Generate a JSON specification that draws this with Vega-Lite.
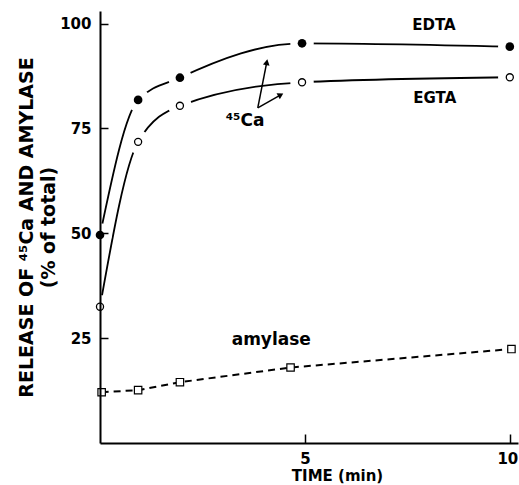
{
  "$schema": "https://vega.github.io/schema/vega-lite/v6.json",
  "width": 418,
  "height": 432,
  "autosize": {"type": "none"},
  "padding": {"left": 100, "top": 11, "right": 1, "bottom": 42},
  "background": "white",
  "config": {
    "view": {"stroke": null},
    "axis": {
      "domainColor": "black",
      "domainWidth": 2,
      "tickColor": "black",
      "tickWidth": 1.5,
      "labelColor": "black",
      "titleColor": "black",
      "labelFont": "DejaVu Sans",
      "labelFontWeight": "bold",
      "labelFontSize": 15,
      "titleFont": "DejaVu Sans",
      "titleFontWeight": "bold",
      "grid": false,
      "labelFlush": false,
      "labelOverlap": false
    }
  },
  "datasets": {
    "series": [
      {"series": "EDTA", "t": 0, "v": 49.6},
      {"series": "EDTA", "t": 0.93, "v": 81.8},
      {"series": "EDTA", "t": 1.95, "v": 87.1},
      {"series": "EDTA", "t": 4.93, "v": 95.3},
      {"series": "EDTA", "t": 10, "v": 94.5},
      {"series": "EGTA", "t": 0, "v": 32.5},
      {"series": "EGTA", "t": 0.93, "v": 71.8},
      {"series": "EGTA", "t": 1.95, "v": 80.4},
      {"series": "EGTA", "t": 4.93, "v": 86.0},
      {"series": "EGTA", "t": 10, "v": 87.2},
      {"series": "amylase", "t": 0.04, "v": 12.1},
      {"series": "amylase", "t": 0.93, "v": 12.6},
      {"series": "amylase", "t": 1.95, "v": 14.5},
      {"series": "amylase", "t": 4.65, "v": 18.0},
      {"series": "amylase", "t": 10.04, "v": 22.4}
    ],
    "arrows": [
      {"id": "a1", "t": 3.85, "v": 79.9, "t2": 4.07, "v2": 90.8},
      {"id": "a2", "t": 3.85, "v": 79.9, "t2": 4.41, "v2": 83.0}
    ],
    "labels": [
      {"label": "EDTA", "t": 8.15, "v": 99.7, "kind": "small"},
      {"label": "EGTA", "t": 8.17, "v": 82.3, "kind": "small"},
      {"label": "⁴⁵Ca", "t": 3.54, "v": 75.6, "kind": "big"},
      {"label": "amylase", "t": 4.18, "v": 23.4, "kind": "big"}
    ]
  },
  "encoding": {
    "x": {
      "field": "t",
      "type": "quantitative",
      "scale": {"domain": [0, 10.2], "nice": false, "zero": false},
      "axis": {
        "zindex": 1,
        "values": [5, 10],
        "format": "d",
        "title": "TIME (min)",
        "titleFontSize": 15,
        "titleX": 237,
        "titleY": 32,
        "titleAlign": "center",
        "titleBaseline": "middle",
        "tickSize": -9,
        "labelPadding": 17,
        "labelFlush": 10,
        "labelFlushOffset": 8
      }
    },
    "y": {
      "field": "v",
      "type": "quantitative",
      "scale": {"domain": [0, 103], "nice": false},
      "axis": {
        "zindex": 1,
        "values": [25, 50, 75, 100],
        "format": "d",
        "title": ["RELEASE OF ⁴⁵Ca AND AMYLASE", "(% of total)"],
        "titleFontSize": 19,
        "titleLineHeight": 22,
        "titleAngle": -90,
        "titleX": -74,
        "titleY": 216,
        "titleAlign": "center",
        "titleBaseline": "middle",
        "tickSize": -8,
        "labelPadding": 17
      }
    }
  },
  "layer": [
    {
      "data": {"name": "series"},
      "transform": [{"filter": "datum.series !== 'amylase'"}],
      "mark": {"type": "line", "interpolate": "monotone", "color": "black", "strokeWidth": 1.8},
      "encoding": {"detail": {"field": "series"}}
    },
    {
      "data": {"name": "series"},
      "transform": [{"filter": "datum.series === 'amylase'"}],
      "mark": {"type": "line", "color": "black", "strokeWidth": 2, "strokeDash": [7, 5]},
      "encoding": {}
    },
    {
      "data": {"name": "series"},
      "transform": [{"filter": "datum.series !== 'amylase'"}],
      "mark": {"type": "point", "shape": "circle", "filled": false, "fill": null, "stroke": "white", "strokeWidth": 14, "size": 90, "opacity": 1},
      "encoding": {}
    },
    {
      "data": {"name": "series"},
      "transform": [{"filter": "datum.series === 'EDTA'"}],
      "mark": {"type": "point", "shape": "circle", "filled": true, "color": "black", "size": 75, "opacity": 1},
      "encoding": {}
    },
    {
      "data": {"name": "series"},
      "transform": [{"filter": "datum.series === 'EGTA'"}],
      "mark": {"type": "point", "shape": "circle", "filled": true, "fill": "white", "stroke": "black", "strokeWidth": 1.3, "size": 50, "opacity": 1},
      "encoding": {}
    },
    {
      "data": {"name": "series"},
      "transform": [{"filter": "datum.series === 'amylase'"}],
      "mark": {"type": "point", "shape": "square", "filled": true, "fill": "white", "stroke": "black", "strokeWidth": 1.2, "size": 55, "opacity": 1},
      "encoding": {}
    },
    {
      "data": {"name": "arrows"},
      "mark": {"type": "rule", "color": "black", "strokeWidth": 1.5},
      "encoding": {"x2": {"field": "t2"}, "y2": {"field": "v2"}}
    },
    {
      "data": {"name": "arrows"},
      "transform": [{"filter": "datum.id === 'a1'"}],
      "mark": {"type": "point", "shape": "triangle-up", "filled": true, "color": "black", "size": 45, "angle": 11, "opacity": 1},
      "encoding": {"x": {"field": "t2", "type": "quantitative"}, "y": {"field": "v2", "type": "quantitative"}}
    },
    {
      "data": {"name": "arrows"},
      "transform": [{"filter": "datum.id === 'a2'"}],
      "mark": {"type": "point", "shape": "triangle-up", "filled": true, "color": "black", "size": 45, "angle": 61, "opacity": 1},
      "encoding": {"x": {"field": "t2", "type": "quantitative"}, "y": {"field": "v2", "type": "quantitative"}}
    },
    {
      "data": {"name": "labels"},
      "transform": [{"filter": "datum.kind === 'small'"}],
      "mark": {"type": "text", "font": "DejaVu Sans", "fontWeight": "bold", "fontSize": 15, "color": "black", "align": "center", "baseline": "middle"},
      "encoding": {"text": {"field": "label"}}
    },
    {
      "data": {"name": "labels"},
      "transform": [{"filter": "datum.kind === 'big'"}],
      "mark": {"type": "text", "font": "DejaVu Sans", "fontWeight": "bold", "fontSize": 17, "color": "black", "align": "center", "baseline": "alphabetic"},
      "encoding": {"text": {"field": "label"}}
    }
  ]
}
